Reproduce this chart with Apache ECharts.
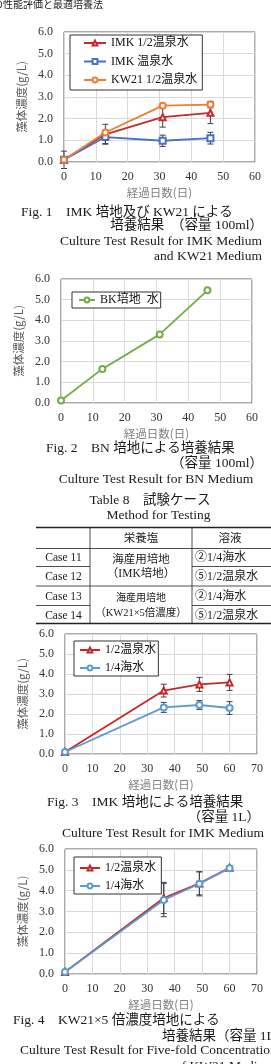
<!DOCTYPE html>
<html>
<head>
<meta charset="utf-8">
<script src="https://cdn.jsdelivr.net/npm/echarts@6/dist/echarts.min.js"></script>
<style>
    html, body { margin: 0; padding: 0; background: #fff; }
    #chart { width: 271px; height: 1064px; }
</style>
</head>
<body>
<div id="chart"></div>
<script>
// Fig.1 IMK / KW21 (100ml)
const days1 = [0, 13, 31, 46];
const imkHalf = [0.1, 1.28, 2.07, 2.27];
const imkHalfErr = [0.4, 0.46, 0.46, 0.5];
const imkFull = [0.1, 1.15, 0.98, 1.1];
const imkFullErr = [0.05, 0.3, 0.26, 0.27];
const kwHalf = [0.1, 1.36, 2.6, 2.65];
const kwHalfErr = [0.05, 0.1, 0.06, 0.15];

// Fig.2 BN (100ml)
const days2 = [0, 13, 31, 46];
const bkWater = [0.12, 1.65, 3.32, 5.45];
const bkWaterErr = [0.03, 0.1, 0.05, 0.05];

// Fig.3 IMK (1L)
const days3 = [0, 36, 49, 60];
const imkHot = [0.1, 3.17, 3.48, 3.58];
const imkHotErr = [0.03, 0.32, 0.35, 0.4];
const imkSea = [0.1, 2.33, 2.45, 2.3];
const imkSeaErr = [0.03, 0.25, 0.22, 0.32];

// Fig.4 KW21 x5 (1L)
const days4 = [0, 36, 49, 60];
const kwHot = [0.1, 3.65, 4.35, 5.1];
const kwHotErr = [0.03, 0.75, 0.55, 0.08];
const kwSea = [0.1, 3.55, 4.33, 5.08];
const kwSeaErr = [0.03, 0.8, 0.58, 0.1];

// Table 8
const tableHead = ['栄養塩', '溶液'];
const caseNames = ['Case 11', 'Case 12', 'Case 13', 'Case 14'];
const nutrients = [['海産用培地', '（IMK培地）'], ['海産用培地', '（KW21×5倍濃度）']];
const solutions = ['②1/4海水', '⑤1/2温泉水', '②1/4海水', '⑤1/2温泉水'];

const xMaxes = [60, 60, 70, 70];
const yName = '藻体濃度(g/L)';
const xName = '経過日数(日)';

const FONT = "'Liberation Serif', 'Noto Sans CJK JP', serif";
const SANS = "'Noto Sans CJK JP', sans-serif";
const CAP = 13.5;

const grids = [
    {left: 64, top: 32, width: 191, height: 130},
    {left: 61, top: 279, width: 191, height: 124},
    {left: 65, top: 634, width: 192, height: 120},
    {left: 65, top: 849, width: 192, height: 125}
];

function errorItem(params, api) {
    const x = api.value(0);
    const lo = api.coord([x, api.value(1)]);
    const hi = api.coord([x, api.value(2)]);
    const w = 3;
    const style = {stroke: '#404040', lineWidth: 1};
    return {
        type: 'group',
        children: [
            {type: 'line', shape: {x1: lo[0], y1: lo[1], x2: hi[0], y2: hi[1]}, style},
            {type: 'line', shape: {x1: lo[0] - w, y1: lo[1], x2: lo[0] + w, y2: lo[1]}, style},
            {type: 'line', shape: {x1: hi[0] - w, y1: hi[1], x2: hi[0] + w, y2: hi[1]}, style}
        ]
    };
}

function lineSeries(name, days, vals, color, symbol, idx) {
    return {
        type: 'line', name, xAxisIndex: idx, yAxisIndex: idx,
        data: days.map((d, i) => [d, vals[i]]),
        color, symbol, symbolSize: 6,
        lineStyle: {width: 1.8, color},
        itemStyle: {color, borderWidth: 1.2},
        z: 3
    };
}

function errSeries(days, vals, errs, idx) {
    return {
        type: 'custom', xAxisIndex: idx, yAxisIndex: idx, silent: true,
        data: days.map((d, i) => [d, vals[i] - errs[i], vals[i] + errs[i]]),
        renderItem: errorItem, z: 2
    };
}

const splitLine = {show: true, lineStyle: {color: '#d9d9d9', width: 1}};

const xAxes = grids.map((g, i) => ({
    type: 'value', gridIndex: i, min: 0, max: xMaxes[i], interval: 10,
    axisLine: {show: false}, axisTick: {show: false}, splitLine,
    axisLabel: {fontFamily: FONT, fontSize: 12, color: '#333', margin: 9},
    name: xName, nameLocation: 'middle', nameGap: 25,
    nameTextStyle: {fontFamily: SANS, fontSize: 11.5, color: '#808080'}
}));

const yAxes = grids.map((g, i) => ({
    type: 'value', gridIndex: i, min: 0, max: 6, interval: 1,
    axisLine: {show: false}, axisTick: {show: false}, splitLine,
    axisLabel: {fontFamily: FONT, fontSize: 12, color: '#333', margin: 11, formatter: v => v.toFixed(1)},
    name: yName, nameLocation: 'middle', nameGap: 27,
    nameTextStyle: {fontFamily: SANS, fontSize: 11.5, color: '#595959'}
}));

const legendBase = {
    orient: 'vertical', backgroundColor: '#fff', borderColor: '#333', borderWidth: 1,
    itemHeight: 6, selectedMode: false,
    textStyle: {fontFamily: FONT, fontSize: 12, color: '#111'}
};

const legends = [
    Object.assign({}, legendBase, {left: 70, top: 35, padding: [2, 5, 4, 13], itemWidth: 22, itemGap: 6.5,
        data: ['IMK 1/2温泉水', 'IMK 温泉水', 'KW21 1/2温泉水']}),
    Object.assign({}, legendBase, {left: 72, top: 292, padding: [2, 2, 2, 6], itemWidth: 16, itemGap: 6,
        data: ['BK培地  水']}),
    Object.assign({}, legendBase, {left: 74, top: 641, padding: [3, 2, 2, 5], itemWidth: 20, itemGap: 6,
        data: ['1/2温泉水', '1/4海水']}),
    Object.assign({}, legendBase, {left: 74, top: 857, padding: [5, 2, 2, 5], itemWidth: 20, itemGap: 6,
        data: ['1/2温泉水 ', '1/4海水 ']})
];

const series = [
    errSeries(days1, imkHalf, imkHalfErr, 0),
    errSeries(days1, imkFull, imkFullErr, 0),
    errSeries(days1, kwHalf, kwHalfErr, 0),
    lineSeries('IMK 1/2温泉水', days1, imkHalf, '#c42a2f', 'emptyTriangle', 0),
    lineSeries('IMK 温泉水', days1, imkFull, '#4472c4', 'emptyRect', 0),
    lineSeries('KW21 1/2温泉水', days1, kwHalf, '#ed7d31', 'emptyCircle', 0),

    errSeries(days2, bkWater, bkWaterErr, 1),
    lineSeries('BK培地  水', days2, bkWater, '#70ad47', 'emptyCircle', 1),

    errSeries(days3, imkHot, imkHotErr, 2),
    errSeries(days3, imkSea, imkSeaErr, 2),
    lineSeries('1/2温泉水', days3, imkHot, '#c62828', 'emptyTriangle', 2),
    lineSeries('1/4海水', days3, imkSea, '#5b9bd5', 'emptyCircle', 2),

    errSeries(days4, kwHot, kwHotErr, 3),
    errSeries(days4, kwSea, kwSeaErr, 3),
    lineSeries('1/2温泉水 ', days4, kwHot, '#c62828', 'emptyTriangle', 3),
    lineSeries('1/4海水 ', days4, kwSea, '#5b9bd5', 'emptyCircle', 3)
];

function txt(text, x, y, align, size) {
    return {
        type: 'text', x, y, silent: true,
        style: {text, fill: '#1a1a1a', fontFamily: FONT, fontSize: size || CAP,
            align: align || 'left', verticalAlign: 'middle'}
    };
}

function hline(x1, x2, y, w) {
    return {type: 'line', silent: true, shape: {x1, y1: y, x2, y2: y}, style: {stroke: '#222', lineWidth: w || 0.8}};
}

function vline(x, y1, y2) {
    return {type: 'line', silent: true, shape: {x1: x, y1, x2: x, y2}, style: {stroke: '#222', lineWidth: 0.8}};
}

// table layout
const tL = 36, tR = 271, c1 = 90, c2 = 192;
const tTop = 527.5, tHead = 548.5, tBot = 623.5;
const rowY = [558, 576.5, 596.5, 615.5];
const rowLines = [566.5, 586, 605.5];

const graphics = [
    txt('の性能評価と最適培養法', -7, 5, 'left', 10),

    txt('Fig. 1　IMK 培地及び KW21 による', 21, 212),
    txt('培養結果　（容量 100ml）', 263, 225.5, 'right'),
    txt('Culture Test Result for IMK Medium', 262, 241.5, 'right'),
    txt('and KW21 Medium', 262, 256.5, 'right'),

    txt('Fig. 2　BN 培地による培養結果', 46, 448),
    txt('（容量 100ml）', 263, 463.5, 'right'),
    txt('Culture Test Result for BN Medium', 156, 479, 'center'),

    txt('Table 8　試験ケース', 150, 500, 'center'),
    txt('Method for Testing', 158.5, 515, 'center'),

    hline(tL, tR, tTop, 1.6),
    hline(tL, tR, tHead),
    hline(tL, c1, rowLines[0]), hline(c2, tR, rowLines[0]),
    hline(tL, tR, rowLines[1]),
    hline(tL, c1, rowLines[2]), hline(c2, tR, rowLines[2]),
    hline(tL, tR, tBot, 1.6),
    vline(c1, tTop, tBot), vline(c2, tTop, tBot),
    txt(tableHead[0], (c1 + c2) / 2, 538.5, 'center', 11.5),
    txt(tableHead[1], 230, 538.5, 'center', 11.5),

    txt('Fig. 3　IMK 培地による培養結果', 47, 802.5),
    txt('（容量 1L）', 260, 817, 'right'),
    txt('Culture Test Result for IMK Medium', 62, 833.5),

    txt('Fig. 4　KW21×5 倍濃度培地による', 13, 1020),
    txt('培養結果（容量 1L）', 162, 1036),
    txt('Culture Test Result for Five-fold Concentration', 20, 1050.5),
    txt('of KW21 Medium', 175, 1066)
];

caseNames.forEach((c, i) => graphics.push(txt(c, (tL + c1) / 2 + 0.5, rowY[i], 'center', 11.5)));
solutions.forEach((s, i) => graphics.push(txt(s, c2 + 3, rowY[i], 'left', 12)));
graphics.push(txt(nutrients[0][0], (c1 + c2) / 2, 560, 'center', 11.5));
graphics.push(txt(nutrients[0][1], (c1 + c2) / 2, 573.5, 'center', 11.5));
graphics.push(txt(nutrients[1][0], (c1 + c2) / 2, 598.5, 'center', 10));
graphics.push(txt(nutrients[1][1], (c1 + c2) / 2, 613, 'center', 10.5));

const chart = echarts.init(document.getElementById('chart'));
chart.setOption({
    animation: false,
    backgroundColor: '#fff',
    grid: grids.map(g => Object.assign({show: true, borderColor: '#595959', borderWidth: 1, backgroundColor: 'transparent'}, g)),
    xAxis: xAxes,
    yAxis: yAxes,
    legend: legends,
    series,
    graphic: graphics
});
</script>
</body>
</html>
